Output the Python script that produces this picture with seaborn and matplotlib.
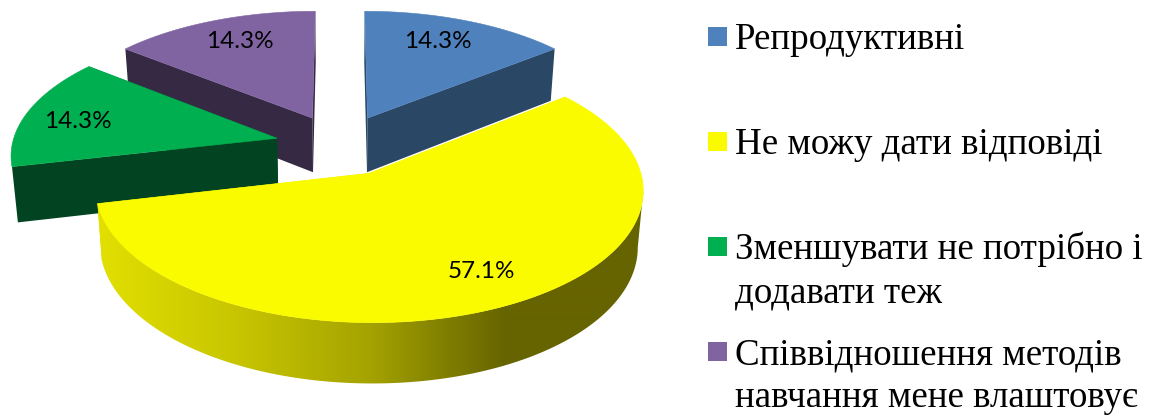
#!/usr/bin/env python3
# -*- coding: utf-8 -*-
import numpy as np
import seaborn as sns
import matplotlib.pyplot as plt
from matplotlib.patches import Polygon, Rectangle

# Chart data
categories = ['Репродуктивні', 'Не можу дати відповіді',
              'Зменшувати не потрібно і\nдодавати теж',
              'Співвідношення методів\nнавчання мене влаштовує']
values = [14.3, 57.1, 14.3, 14.3]
value_labels = ['14.3%', '57.1%', '14.3%', '14.3%']

# Colours
top_colors = ['#4F81BD', '#FBFB00', '#00AF50', '#8064A2']
wall_colors = ['#2A4766', None, '#024421', '#352943']
yellow_wall = sns.blend_palette(['#E2DF00', '#C8C600', '#A5A300', '#666400', '#666400'], as_cmap=True)

# Layout of the 3D pie, pixels
cx, cy = 340, 145
rx, ry = 265, 125
persp = 0.1155
depth = 55
shrink = 0.018
explode = 0.245
label_pos = [(438, 41), (481, 271), (78, 121), (240, 41)]
swatch_y = [27, 132, 237, 342]
legend_y = [49, 154, 259, 364]

sns.set_theme(style='white')
plt.rcParams['font.family'] = ['Liberation Serif', 'DejaVu Serif']


def project(u, v, z=0.0):
    """Plane position (u right, v back) to pixels, z=1 is the bottom face."""
    s = 1 / (1 + persp * v)
    k = 1 - shrink * z
    return cx + rx * u * s * k, cy - ry * v * s * k + depth * s * z


def draw_wedge(ax, start, end, top, wall):
    mid = (start + end) / 2
    u0, v0 = explode * np.sin(mid), explode * np.cos(mid)
    theta = np.linspace(start, end, 300)
    u = u0 + np.sin(theta)
    v = v0 + np.cos(theta)
    xt, yt = project(u, v)
    xb, yb = project(u, v, 1)
    apex_t = project(u0, v0)
    apex_b = project(u0, v0, 1)

    # radial side faces
    for i in (0, -1):
        side = [apex_t, (xt[i], yt[i]), (xb[i], yb[i]), apex_b]
        color = wall if wall else yellow_wall(0.0)
        ax.add_patch(Polygon(side, closed=True, facecolor=color, edgecolor='none'))

    # curved face of the big slice, from the right silhouette round to its end
    if not wall:
        i_top, i_bot = np.argmax(xt), np.argmax(xb)
        shell = list(zip(xt[i_top:], yt[i_top:])) + list(zip(xb[i_bot:][::-1], yb[i_bot:][::-1]))
        px = np.arange(80, 660)
        grad = np.clip((px - 98) / (640 - 98), 0, 1)[None, :]
        img = ax.imshow(grad, cmap=yellow_wall, vmin=0, vmax=1, aspect='auto',
                        extent=(80, 660, 415, 0), interpolation='bilinear', zorder=1)
        img.set_clip_path(Polygon(shell, closed=True, transform=ax.transData))

    outline = [apex_t] + list(zip(xt, yt))
    ax.add_patch(Polygon(outline, closed=True, facecolor=top, edgecolor=top, linewidth=0.4))


fig, ax = plt.subplots(figsize=(11.55, 4.15), dpi=100)
fig.subplots_adjust(left=0, right=1, bottom=0, top=1)
ax.axis('off')

# Slice angles clockwise from 12 o'clock
edges = np.concatenate([[0], np.cumsum(values)]) / sum(values) * 2 * np.pi

for i in [3, 0, 2, 1]:
    draw_wedge(ax, edges[i], edges[i + 1], top_colors[i], wall_colors[i])

ax.set_xlim(0, 1155)
ax.set_ylim(415, 0)

for (x, y), text in zip(label_pos, value_labels):
    ax.text(x, y, text, ha='center', va='center', fontsize=17.5, family=['Lato', 'DejaVu Sans'], color='black')

# Legend
for i, name in enumerate(categories):
    ax.add_patch(Rectangle((708, swatch_y[i]), 19, 19, facecolor=top_colors[i], edgecolor='none'))
    for j, line in enumerate(name.split('\n')):
        ax.text(735, legend_y[i] + j * 43, line, ha='left', va='baseline', fontsize=26.65, color='black')

plt.savefig('out.png', dpi=100)
plt.close()
